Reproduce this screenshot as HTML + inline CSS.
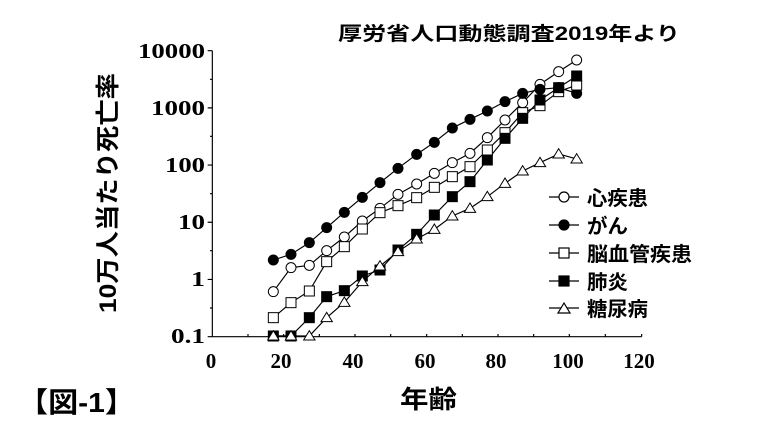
<!DOCTYPE html>
<html><head><meta charset="utf-8"><style>
body{margin:0;background:#fff;width:760px;height:428px;overflow:hidden}
</style></head><body>
<svg width="760" height="428" xmlns="http://www.w3.org/2000/svg">
<text x="338" y="40" textLength="342" lengthAdjust="spacingAndGlyphs" font-family="Liberation Sans,'Noto Sans CJK JP',sans-serif" font-weight="bold" font-size="19">厚労省人口動態調査2019年より</text>
<g font-family="Liberation Serif,serif" font-weight="bold" font-size="21">
<text x="138" y="58" textLength="67" lengthAdjust="spacingAndGlyphs">10000</text>
<text x="151" y="115" textLength="54" lengthAdjust="spacingAndGlyphs">1000</text>
<text x="165" y="172" textLength="40" lengthAdjust="spacingAndGlyphs">100</text>
<text x="178" y="229" textLength="27" lengthAdjust="spacingAndGlyphs">10</text>
<text x="191" y="286" textLength="14" lengthAdjust="spacingAndGlyphs">1</text>
<text x="171" y="343" textLength="34" lengthAdjust="spacingAndGlyphs">0.1</text>
</g>
<g font-family="Liberation Serif,serif" font-weight="bold" font-size="21" text-anchor="middle">
<text x="211" y="368">0</text><text x="281" y="368">20</text><text x="353" y="368">40</text><text x="425" y="368">60</text><text x="496" y="368">80</text><text x="568" y="368">100</text><text x="639" y="368">120</text>
</g>
<text transform="translate(116,193) rotate(-90)" x="-120" textLength="240" lengthAdjust="spacingAndGlyphs" font-family="Liberation Sans,'Noto Sans CJK JP',sans-serif" font-weight="bold" font-size="24">10万人当たり死亡率</text>
<text x="400" y="408" textLength="57" lengthAdjust="spacingAndGlyphs" font-family="Liberation Sans,'Noto Sans CJK JP',sans-serif" font-weight="bold" font-size="25">年齢</text>
<text x="18" y="412" textLength="117" lengthAdjust="spacingAndGlyphs" font-family="Liberation Sans,'Noto Sans CJK JP',sans-serif" font-weight="bold" font-size="28">【図-1】</text>
<g transform="translate(200,40) scale(0.33333)" stroke="#000" stroke-width="3.5" fill="none">
<path d="M37 32V890H1325M37 32h-14M37 203.6h-14M37 375.2h-14M37 546.8h-14M37 718.4h-14M37 890h-14M37 118h-7M37 289h-7M37 461h-7M37 632h-7M37 804h-7"/>
<path d="M144 890v-8M251 890v-8M358 890v-8M465 890v-8M572 890v-8M680 890v-8M787 890v-8M894 890v-8M1001 890v-8M1108 890v-8M1216 890v-8M1325 890v-8"/>
<polyline points="220,755 273,683 328,676 380,632 433,591 487,543 540,505 594,463 650,432 703,400 757,368 810,340 862,293 915,240 968,188 1020,133 1076,95 1130,60"/>
<polyline points="220,660 273,643 328,608 380,563 433,517 487,472 540,428 594,385 650,343 703,307 757,264 810,238 862,213 915,185 968,160 1020,148 1076,143 1130,160"/>
<polyline points="220,833 273,788 328,753 380,665 433,620 487,567 540,518 594,497 650,473 703,442 757,410 810,380 862,330 915,278 968,218 1020,197 1076,155 1130,135"/>
<polyline points="220,888 273,888 328,833 380,770 433,752 487,708 540,690 594,630 650,583 703,525 757,470 810,425 862,360 915,295 968,235 1020,180 1076,143 1130,108"/>
<polyline points="220,888 273,888 328,888 380,833 433,787 487,725 540,678 594,635 650,597 703,568 757,528 810,505 862,470 915,430 968,393 1020,368 1076,342 1130,357"/>
</g>
<g transform="translate(200,40) scale(0.33333)" stroke="#000" stroke-width="3">
<g fill="#fff">
<circle cx="220" cy="755" r="15"/><circle cx="273" cy="683" r="15"/><circle cx="328" cy="676" r="15"/><circle cx="380" cy="632" r="15"/><circle cx="433" cy="591" r="15"/><circle cx="487" cy="543" r="15"/><circle cx="540" cy="505" r="15"/><circle cx="594" cy="463" r="15"/><circle cx="650" cy="432" r="15"/><circle cx="703" cy="400" r="15"/><circle cx="757" cy="368" r="15"/><circle cx="810" cy="340" r="15"/><circle cx="862" cy="293" r="15"/><circle cx="915" cy="240" r="15"/><circle cx="968" cy="188" r="15"/><circle cx="1020" cy="133" r="15"/><circle cx="1076" cy="95" r="15"/><circle cx="1130" cy="60" r="15"/>
</g>
<g fill="#000">
<circle cx="220" cy="660" r="15"/><circle cx="273" cy="643" r="15"/><circle cx="328" cy="608" r="15"/><circle cx="380" cy="563" r="15"/><circle cx="433" cy="517" r="15"/><circle cx="487" cy="472" r="15"/><circle cx="540" cy="428" r="15"/><circle cx="594" cy="385" r="15"/><circle cx="650" cy="343" r="15"/><circle cx="703" cy="307" r="15"/><circle cx="757" cy="264" r="15"/><circle cx="810" cy="238" r="15"/><circle cx="862" cy="213" r="15"/><circle cx="915" cy="185" r="15"/><circle cx="968" cy="160" r="15"/><circle cx="1020" cy="148" r="15"/><circle cx="1076" cy="143" r="15"/><circle cx="1130" cy="160" r="15"/>
</g>
<g fill="#fff">
<rect x="205" y="818" width="30" height="30"/><rect x="258" y="773" width="30" height="30"/><rect x="313" y="738" width="30" height="30"/><rect x="365" y="650" width="30" height="30"/><rect x="418" y="605" width="30" height="30"/><rect x="472" y="552" width="30" height="30"/><rect x="525" y="503" width="30" height="30"/><rect x="579" y="482" width="30" height="30"/><rect x="635" y="458" width="30" height="30"/><rect x="688" y="427" width="30" height="30"/><rect x="742" y="395" width="30" height="30"/><rect x="795" y="365" width="30" height="30"/><rect x="847" y="315" width="30" height="30"/><rect x="900" y="263" width="30" height="30"/><rect x="953" y="203" width="30" height="30"/><rect x="1005" y="182" width="30" height="30"/><rect x="1061" y="140" width="30" height="30"/><rect x="1115" y="120" width="30" height="30"/>
</g>
<g fill="#000">
<rect x="205" y="873" width="30" height="30"/><rect x="258" y="873" width="30" height="30"/><rect x="313" y="818" width="30" height="30"/><rect x="365" y="755" width="30" height="30"/><rect x="418" y="737" width="30" height="30"/><rect x="472" y="693" width="30" height="30"/><rect x="525" y="675" width="30" height="30"/><rect x="579" y="615" width="30" height="30"/><rect x="635" y="568" width="30" height="30"/><rect x="688" y="510" width="30" height="30"/><rect x="742" y="455" width="30" height="30"/><rect x="795" y="410" width="30" height="30"/><rect x="847" y="345" width="30" height="30"/><rect x="900" y="280" width="30" height="30"/><rect x="953" y="220" width="30" height="30"/><rect x="1005" y="165" width="30" height="30"/><rect x="1061" y="128" width="30" height="30"/><rect x="1115" y="93" width="30" height="30"/>
</g>
<g fill="#fff">
<path d="M220 872l-17 28h34z M273 872l-17 28h34z M328 872l-17 28h34z M380 817l-17 28h34z M433 771l-17 28h34z M487 709l-17 28h34z M540 662l-17 28h34z M594 619l-17 28h34z M650 581l-17 28h34z M703 552l-17 28h34z M757 512l-17 28h34z M810 489l-17 28h34z M862 454l-17 28h34z M915 414l-17 28h34z M968 377l-17 28h34z M1020 352l-17 28h34z M1076 326l-17 28h34z M1130 341l-17 28h34z"/>
</g>
</g>
<g stroke="#000" stroke-width="1.2">
<path d="M549 197h30M549 225h30M549 253h30M549 281h30M549 308h30"/>
<circle cx="564" cy="197" r="5" fill="#fff"/>
<circle cx="564" cy="225" r="5" fill="#000"/>
<rect x="559" y="248" width="10" height="10" fill="#fff"/>
<rect x="559" y="276" width="10" height="10" fill="#000"/>
<path d="M564 303l-6 10h12z" fill="#fff"/>
</g>
<g font-family="Liberation Sans,'Noto Sans CJK JP',sans-serif" font-weight="bold" font-size="20">
<text x="587" y="205" textLength="61" lengthAdjust="spacingAndGlyphs">心疾患</text>
<text x="587" y="233" textLength="41" lengthAdjust="spacingAndGlyphs">がん</text>
<text x="587" y="261" textLength="105" lengthAdjust="spacingAndGlyphs">脳血管疾患</text>
<text x="587" y="289" textLength="41" lengthAdjust="spacingAndGlyphs">肺炎</text>
<text x="587" y="316" textLength="61" lengthAdjust="spacingAndGlyphs">糖尿病</text>
</g>
</svg>
</body></html>
